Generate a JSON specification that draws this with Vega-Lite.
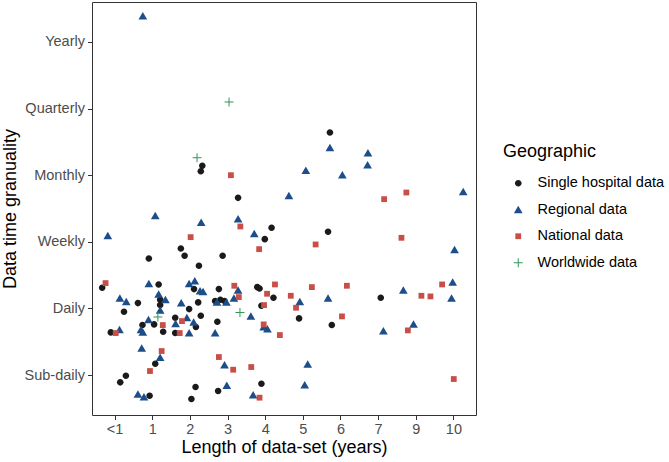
{
 "$schema": "https://vega.github.io/schema/vega-lite/v6.json",
 "width": 384, "height": 413,
 "autosize": {"type": "none"},
 "padding": {"left": 92, "top": 2, "right": 193, "bottom": 47},
 "background": "white",
 "config": {
  "font": "Liberation Sans",
  "view": {"stroke": "#333333", "strokeWidth": 1},
  "axis": {"grid": false, "domain": false, "tickColor": "#333333", "tickSize": 4.5, "tickWidth": 1,
   "labelColor": "#4D4D4D", "labelFontSize": 14.5, "titleFontSize": 18, "titleColor": "black",
   "titleFontWeight": "normal", "labelFont": "Liberation Sans", "titleFont": "Liberation Sans"},
  "legend": {"titleFont": "Liberation Sans", "labelFont": "Liberation Sans"}
 },
 "data": {"values": [
  {"g":"Single hospital data","x":2.33,"y":3.14},{"g":"Single hospital data","x":2.29,"y":3.06},{"g":"Single hospital data","x":3.28,"y":2.66},
  {"g":"Single hospital data","x":5.72,"y":3.64},{"g":"Single hospital data","x":4.17,"y":2.21},{"g":"Single hospital data","x":5.67,"y":2.15},
  {"g":"Single hospital data","x":4.22,"y":1.16},{"g":"Single hospital data","x":4.90,"y":0.85},{"g":"Single hospital data","x":5.77,"y":0.75},
  {"g":"Single hospital data","x":7.07,"y":1.16},{"g":"Single hospital data","x":3.99,"y":2.04},{"g":"Single hospital data","x":1.76,"y":1.90},
  {"g":"Single hospital data","x":1.86,"y":1.79},{"g":"Single hospital data","x":0.91,"y":1.75},{"g":"Single hospital data","x":2.87,"y":1.79},
  {"g":"Single hospital data","x":2.24,"y":1.64},{"g":"Single hospital data","x":-0.33,"y":1.31},{"g":"Single hospital data","x":1.17,"y":1.36},
  {"g":"Single hospital data","x":1.21,"y":1.13},{"g":"Single hospital data","x":1.21,"y":1.05},{"g":"Single hospital data","x":0.62,"y":1.08},
  {"g":"Single hospital data","x":0.25,"y":0.95},{"g":"Single hospital data","x":2.11,"y":1.29},{"g":"Single hospital data","x":2.22,"y":1.09},
  {"g":"Single hospital data","x":1.98,"y":0.99},{"g":"Single hospital data","x":2.77,"y":1.29},{"g":"Single hospital data","x":2.67,"y":1.11},
  {"g":"Single hospital data","x":2.81,"y":1.13},{"g":"Single hospital data","x":2.92,"y":1.11},{"g":"Single hospital data","x":3.79,"y":1.32},
  {"g":"Single hospital data","x":3.85,"y":1.30},{"g":"Single hospital data","x":3.90,"y":1.04},{"g":"Single hospital data","x":1.05,"y":0.76},
  {"g":"Single hospital data","x":0.74,"y":0.75},{"g":"Single hospital data","x":1.29,"y":0.65},{"g":"Single hospital data","x":-0.10,"y":0.64},
  {"g":"Single hospital data","x":1.61,"y":0.86},{"g":"Single hospital data","x":1.61,"y":0.63},{"g":"Single hospital data","x":2.16,"y":0.72},
  {"g":"Single hospital data","x":2.29,"y":0.89},{"g":"Single hospital data","x":2.73,"y":0.80},{"g":"Single hospital data","x":1.08,"y":0.17},
  {"g":"Single hospital data","x":0.30,"y":-0.01},{"g":"Single hospital data","x":0.15,"y":-0.11},{"g":"Single hospital data","x":3.90,"y":-0.13},
  {"g":"Single hospital data","x":2.15,"y":-0.18},{"g":"Single hospital data","x":2.75,"y":-0.24},{"g":"Single hospital data","x":0.93,"y":-0.31},
  {"g":"Single hospital data","x":2.04,"y":-0.36},
  {"g":"Regional data","x":0.75,"y":5.39},{"g":"Regional data","x":5.72,"y":3.41},{"g":"Regional data","x":6.73,"y":3.33},
  {"g":"Regional data","x":6.72,"y":3.15},{"g":"Regional data","x":5.08,"y":3.07},{"g":"Regional data","x":6.05,"y":3.00},
  {"g":"Regional data","x":4.63,"y":2.69},{"g":"Regional data","x":9.26,"y":2.75},{"g":"Regional data","x":9.03,"y":1.88},
  {"g":"Regional data","x":4.92,"y":1.10},{"g":"Regional data","x":5.67,"y":1.15},{"g":"Regional data","x":7.67,"y":1.27},
  {"g":"Regional data","x":8.98,"y":1.39},{"g":"Regional data","x":8.95,"y":1.15},{"g":"Regional data","x":7.14,"y":0.66},
  {"g":"Regional data","x":7.94,"y":0.76},{"g":"Regional data","x":5.13,"y":0.16},{"g":"Regional data","x":5.05,"y":-0.15},
  {"g":"Regional data","x":1.08,"y":2.39},{"g":"Regional data","x":2.30,"y":2.29},{"g":"Regional data","x":3.28,"y":2.34},
  {"g":"Regional data","x":-0.18,"y":2.09},{"g":"Regional data","x":3.71,"y":2.12},{"g":"Regional data","x":0.91,"y":1.37},
  {"g":"Regional data","x":1.17,"y":1.21},{"g":"Regional data","x":1.21,"y":0.97},{"g":"Regional data","x":1.35,"y":1.13},
  {"g":"Regional data","x":0.14,"y":1.15},{"g":"Regional data","x":0.31,"y":1.10},{"g":"Regional data","x":1.98,"y":1.37},
  {"g":"Regional data","x":2.13,"y":1.41},{"g":"Regional data","x":2.27,"y":1.26},{"g":"Regional data","x":2.35,"y":1.25},
  {"g":"Regional data","x":1.77,"y":1.08},{"g":"Regional data","x":3.28,"y":1.27},{"g":"Regional data","x":3.17,"y":1.15},
  {"g":"Regional data","x":2.97,"y":1.09},{"g":"Regional data","x":2.72,"y":1.09},{"g":"Regional data","x":0.90,"y":0.83},
  {"g":"Regional data","x":0.70,"y":0.68},{"g":"Regional data","x":0.75,"y":0.64},{"g":"Regional data","x":0.13,"y":0.68},
  {"g":"Regional data","x":1.62,"y":0.77},{"g":"Regional data","x":1.92,"y":0.86},{"g":"Regional data","x":2.10,"y":0.79},
  {"g":"Regional data","x":1.98,"y":0.63},{"g":"Regional data","x":2.67,"y":0.63},{"g":"Regional data","x":3.62,"y":0.88},
  {"g":"Regional data","x":3.96,"y":0.72},{"g":"Regional data","x":4.06,"y":0.69},{"g":"Regional data","x":0.72,"y":0.40},
  {"g":"Regional data","x":1.21,"y":0.26},{"g":"Regional data","x":2.92,"y":0.15},{"g":"Regional data","x":2.98,"y":-0.16},
  {"g":"Regional data","x":3.68,"y":-0.30},{"g":"Regional data","x":0.62,"y":-0.29},{"g":"Regional data","x":0.78,"y":-0.33},
  {"g":"National data","x":3.09,"y":3.00},{"g":"National data","x":7.75,"y":2.74},{"g":"National data","x":7.16,"y":2.64},
  {"g":"National data","x":5.34,"y":1.96},{"g":"National data","x":7.62,"y":2.06},{"g":"National data","x":4.26,"y":1.36},
  {"g":"National data","x":5.24,"y":1.32},{"g":"National data","x":6.17,"y":1.34},{"g":"National data","x":4.68,"y":1.19},
  {"g":"National data","x":4.82,"y":1.01},{"g":"National data","x":6.04,"y":0.88},{"g":"National data","x":4.39,"y":0.60},
  {"g":"National data","x":8.15,"y":1.19},{"g":"National data","x":8.39,"y":1.18},{"g":"National data","x":8.70,"y":1.36},
  {"g":"National data","x":7.79,"y":0.67},{"g":"National data","x":9.01,"y":-0.06},{"g":"National data","x":3.34,"y":2.23},
  {"g":"National data","x":2.02,"y":2.07},{"g":"National data","x":3.84,"y":1.89},{"g":"National data","x":-0.24,"y":1.38},
  {"g":"National data","x":3.18,"y":1.34},{"g":"National data","x":3.30,"y":1.17},{"g":"National data","x":4.05,"y":1.22},
  {"g":"National data","x":3.97,"y":1.05},{"g":"National data","x":1.28,"y":0.75},{"g":"National data","x":0.03,"y":0.63},
  {"g":"National data","x":1.79,"y":0.81},{"g":"National data","x":1.73,"y":0.63},{"g":"National data","x":3.96,"y":0.76},
  {"g":"National data","x":1.25,"y":0.36},{"g":"National data","x":0.94,"y":0.06},{"g":"National data","x":2.77,"y":0.27},
  {"g":"National data","x":3.15,"y":0.08},{"g":"National data","x":3.63,"y":0.12},{"g":"National data","x":3.85,"y":-0.34},
  {"g":"Worldwide data","x":3.04,"y":4.10},{"g":"Worldwide data","x":2.19,"y":3.26},{"g":"Worldwide data","x":1.15,"y":0.87},
  {"g":"Worldwide data","x":3.33,"y":0.94}
 ]},
 "mark": {"type": "point", "filled": true, "opacity": 1, "size": 100, "strokeWidth": 0},
 "encoding": {
  "x": {"field": "x", "type": "quantitative",
   "scale": {"domain": [-0.6, 9.6], "nice": false, "zero": false},
   "axis": {"values": [0,1,2,3,4,5,6,7,8,9], "labelExpr": "['<1','1','2','3','4','5','6','7','9','10'][datum.value]",
    "title": "Length of data-set (years)", "labelPadding": 3, "titlePadding": 2}},
  "y": {"field": "y", "type": "quantitative",
   "scale": {"domain": [-0.6, 5.6], "nice": false, "zero": false},
   "axis": {"values": [0,1,2,3,4,5], "labelExpr": "['Sub-daily','Daily','Weekly','Monthly','Quarterly','Yearly'][datum.value]",
    "title": "Data time granuality", "labelPadding": 3, "titleX": -82, "titleY": 206.5, "titleAngle": -90, "titleBaseline": "middle", "titleAlign": "center"}},
  "color": {"field": "g", "type": "nominal",
   "scale": {"domain": ["Single hospital data","Regional data","National data","Worldwide data"],
    "range": ["#1A1A1A","#1D4E89","#C84E48","#30965A"]},
   "legend": {"title": "Geographic", "orient": "none", "legendX": 411, "legendY": 141,
    "titleFontSize": 18, "titleFontWeight": "normal", "titleColor": "black", "labelFontSize": 14.5, "labelColor": "black",
    "symbolSize": 100, "symbolOffset": 8, "labelOffset": 12, "rowPadding": 11.5, "titlePadding": 15, "padding": 0, "symbolStrokeWidth": 0}},
  "shape": {"field": "g", "type": "nominal",
   "scale": {"domain": ["Single hospital data","Regional data","National data","Worldwide data"],
    "range": ["M0.66,0A0.66,0.66,0,1,1,-0.66,0A0.66,0.66,0,1,1,0.66,0Z",
     "M0,-0.82L0.87,0.68L-0.87,0.68Z",
     "M-0.58,-0.58H0.58V0.58H-0.58Z",
     "M-0.9,-0.1H-0.1V-0.9H0.1V-0.1H0.9V0.1H0.1V0.9H-0.1V0.1H-0.9Z"]},
   "legend": {"title": "Geographic", "orient": "none", "legendX": 411, "legendY": 141,
    "titleFontSize": 18, "titleFontWeight": "normal", "titleColor": "black", "labelFontSize": 14.5, "labelColor": "black",
    "symbolSize": 100, "symbolOffset": 8, "labelOffset": 12, "rowPadding": 11.5, "titlePadding": 15, "padding": 0, "symbolStrokeWidth": 0}}
 }
}
